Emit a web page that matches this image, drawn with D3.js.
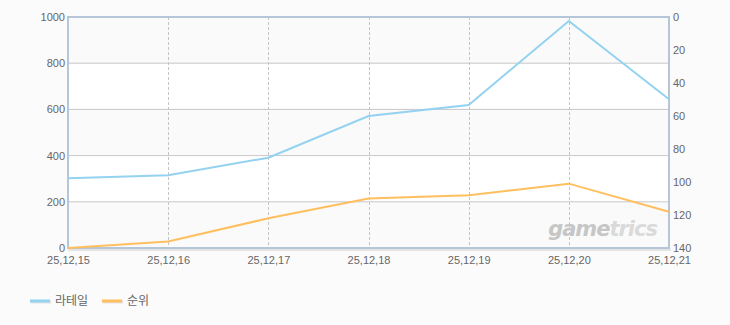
<!DOCTYPE html>
<html>
<head>
<meta charset="utf-8">
<script src="https://cdn.jsdelivr.net/npm/d3@7.9.0/dist/d3.min.js"></script>
<style>
  body { margin: 0; background: #fbfbfb; }
  svg { display: block; font-family: "DejaVu Sans", sans-serif; }
  .tick text { fill: #666; font-size: 11px; }
</style>
</head>
<body>
<div id="chart"></div>
<script>
// chart data
const dates = ['25,12,15', '25,12,16', '25,12,17', '25,12,18', '25,12,19', '25,12,20', '25,12,21'];
const viewers = [302, 315, 391, 571, 619, 983, 644];   // 라테일, left axis
const ranks = [140, 136, 122, 110, 108, 101, 118];     // 순위, right axis (reversed)
const leftTicks = [0, 200, 400, 600, 800, 1000];
const rightTicks = [0, 20, 40, 60, 80, 100, 120, 140];
const seriesNames = ['라테일', '순위'];
const colors = ['#93d2f0', '#ffbf5e'];

const width = 730;
const height = 325;
const margin = { top: 17, right: 61, bottom: 77, left: 68 };
const plotW = width - margin.left - margin.right;
const plotH = height - margin.top - margin.bottom;

const svg = d3.select('#chart')
    .append('svg')
    .attr('width', width)
    .attr('height', height);

const x = d3.scalePoint().domain(dates).range([margin.left, margin.left + plotW]);
const yL = d3.scaleLinear().domain([0, 1000]).range([margin.top + plotH, margin.top]);
const yR = d3.scaleLinear().domain([0, 140]).range([margin.top, margin.top + plotH]);

// alternating bands
const bands = svg.append('g');
for (let i = 0; i < leftTicks.length - 1; i++) {
    bands.append('rect')
        .attr('x', margin.left)
        .attr('width', plotW)
        .attr('y', yL(leftTicks[i + 1]))
        .attr('height', yL(leftTicks[i]) - yL(leftTicks[i + 1]))
        .attr('fill', i % 2 === 0 ? '#fafafa' : '#ffffff');
}

// horizontal gridlines
svg.append('g')
    .selectAll('line')
    .data(leftTicks.slice(1, -1))
    .join('line')
    .attr('x1', margin.left)
    .attr('x2', margin.left + plotW)
    .attr('y1', (d) => yL(d))
    .attr('y2', (d) => yL(d))
    .attr('stroke', '#c8c8c8');

// vertical dashed gridlines
svg.append('g')
    .selectAll('line')
    .data(dates.slice(1, -1))
    .join('line')
    .attr('x1', (d) => Math.round(x(d)) + 0.5)
    .attr('x2', (d) => Math.round(x(d)) + 0.5)
    .attr('y1', margin.top)
    .attr('y2', margin.top + plotH)
    .attr('stroke', '#c4c4c4')
    .attr('stroke-dasharray', '3,2');

// watermark
const wm = svg.append('text')
    .attr('x', 657)
    .attr('y', 236)
    .attr('text-anchor', 'end')
    .style('font-family', '"DejaVu Sans", sans-serif')
    .style('font-size', '21px')
    .style('font-weight', 'bold')
    .style('font-style', 'italic')
    .style('letter-spacing', '-1px');
wm.append('tspan').attr('fill', '#c6c6c6').text('game');
wm.append('tspan').attr('fill', '#dadada').text('trics');

// frame: shadow then border
svg.append('line')
    .attr('x1', margin.left).attr('x2', margin.left + plotW + 2)
    .attr('y1', margin.top + plotH + 2).attr('y2', margin.top + plotH + 2)
    .attr('stroke', '#e4e4e4').attr('stroke-width', 2);
svg.append('rect')
    .attr('x', margin.left)
    .attr('y', margin.top)
    .attr('width', plotW)
    .attr('height', plotH)
    .attr('fill', 'none')
    .attr('stroke', '#b4c6d8')
    .attr('stroke-width', 2);

// lines
const lineL = d3.line().x((d, i) => x(dates[i])).y((d) => yL(d));
const lineR = d3.line().x((d, i) => x(dates[i])).y((d) => yR(d));

svg.append('path')
    .datum(ranks)
    .attr('d', lineR)
    .attr('fill', 'none')
    .attr('stroke', colors[1])
    .attr('stroke-width', 2);

svg.append('path')
    .datum(viewers)
    .attr('d', lineL)
    .attr('fill', 'none')
    .attr('stroke', colors[0])
    .attr('stroke-width', 2);

// axes
const axisL = svg.append('g')
    .attr('transform', `translate(${margin.left},0)`)
    .call(d3.axisLeft(yL).tickValues(leftTicks).tickFormat(d3.format('d')).tickSize(0).tickPadding(3));
axisL.select('.domain').remove();

const axisR = svg.append('g')
    .attr('transform', `translate(${margin.left + plotW},0)`)
    .call(d3.axisRight(yR).tickValues(rightTicks).tickSize(0).tickPadding(4));
axisR.select('.domain').remove();

const axisB = svg.append('g')
    .attr('transform', `translate(0,${margin.top + plotH})`)
    .call(d3.axisBottom(x).tickSize(0).tickPadding(8));
axisB.select('.domain').remove();

svg.selectAll('.tick text').attr('fill', '#666').style('font-size', '11px');

// legend
const legend = svg.append('g').attr('transform', 'translate(30,301)');
const items = [
    { name: seriesNames[0], color: colors[0], x: 0 },
    { name: seriesNames[1], color: colors[1], x: 72 },
];
items.forEach((it) => {
    legend.append('line')
        .attr('x1', it.x + 1).attr('x2', it.x + 21)
        .attr('y1', 1).attr('y2', 1)
        .attr('stroke', '#e2e2e2').attr('stroke-width', 3);
    legend.append('line')
        .attr('x1', it.x).attr('x2', it.x + 20)
        .attr('y1', 0).attr('y2', 0)
        .attr('stroke', it.color).attr('stroke-width', 3);
    legend.append('text')
        .attr('x', it.x + 25)
        .attr('y', 4)
        .attr('fill', '#666')
        .style('font-family', '"Noto Sans CJK KR", sans-serif')
        .style('font-size', '12px')
        .text(it.name);
});
</script>
</body>
</html>
